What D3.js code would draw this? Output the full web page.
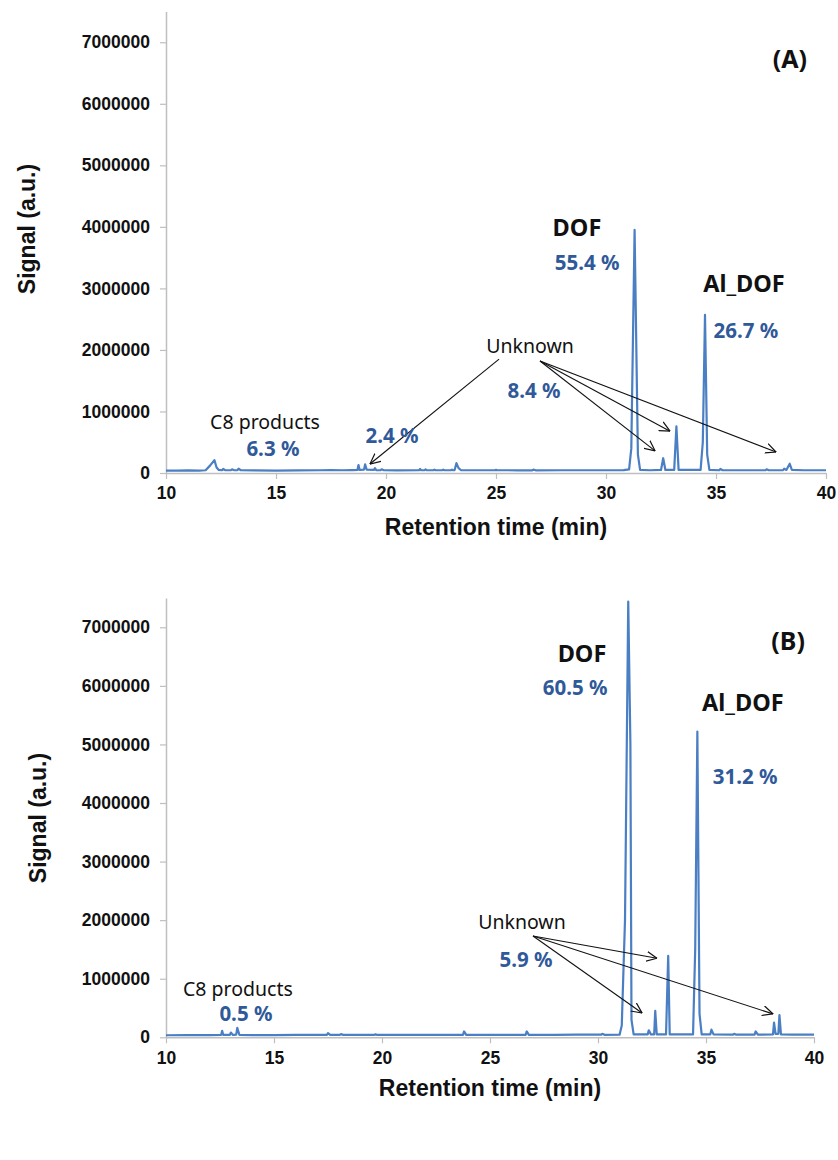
<!DOCTYPE html>
<html>
<head>
<meta charset="utf-8">
<script src="https://cdn.jsdelivr.net/npm/d3@7"></script>
<style>
  html, body { margin: 0; padding: 0; background: #fff; }
  svg { display: block; }
</style>
</head>
<body>
<svg id="chart" width="838" height="1160"></svg>
<script>
// =========================================
// CROMATOGRAMES GC – (A) i (B)
// =========================================

// =========================
// DADES
// =========================

const yTicks = [0, 1000000, 2000000, 3000000, 4000000, 5000000, 6000000, 7000000];
const xTicks = [10, 15, 20, 25, 30, 35, 40];

// (A) temps de retenció (min) i senyal
const timeA = [10.0, 10.5, 11.0, 11.5, 11.8, 12.0, 12.2, 12.3, 12.4, 12.55, 12.6, 12.7, 12.95, 13.0, 13.1, 13.25, 13.3, 13.4,
  14.0, 15.0, 16.0, 17.0, 17.5, 18.0, 18.5, 18.7, 18.75, 18.8, 19.0, 19.05, 19.12, 19.45, 19.5, 19.55,
  19.75, 19.8, 19.9, 20.5, 21.5, 21.55, 21.6, 21.75, 21.8, 21.85, 22.15, 22.2, 22.25, 22.55, 22.6, 22.65,
  22.95, 23.0, 23.05, 23.12, 23.2, 23.3, 23.4, 24.0, 24.95, 25.0,
  25.05, 26.0, 26.65, 26.7, 26.8, 28.0, 29.0, 30.0, 30.8, 31.05, 31.15, 31.3, 31.45, 31.55, 32.0, 32.5, 32.6,
  32.7, 33.1, 33.2, 33.3, 34.3, 34.4, 34.5, 34.6, 34.7, 35.15, 35.2, 35.3, 36.0, 37.25, 37.3, 37.4, 38.05, 38.1, 38.2,
  38.35, 38.45, 39.0, 40.0];
const signalA = [40000, 38000, 42000, 40000, 45000, 120000, 210000, 90000, 50000, 45000, 65000, 45000, 45000, 60000, 45000, 45000, 70000, 45000,
  42000, 40000, 42000, 45000, 48000, 45000, 48000, 50000, 130000, 50000, 55000, 140000, 55000, 50000, 80000, 48000,
  45000, 60000, 45000, 42000, 45000, 65000, 45000, 45000, 60000, 45000, 45000, 55000, 45000, 45000, 55000, 45000,
  45000, 55000, 45000, 48000, 160000, 80000, 48000, 45000, 45000, 50000,
  45000, 44000, 44000, 55000, 44000, 45000, 45000, 45000, 48000, 60000, 400000, 3950000, 300000, 50000, 45000, 50000, 240000,
  50000, 50000, 760000, 50000, 50000, 500000, 2570000, 300000, 50000, 45000, 65000, 45000, 45000, 45000, 60000, 45000, 45000, 70000, 50000,
  150000, 50000, 45000, 45000];

// (B) temps de retenció (min) i senyal
const timeB = [10.0, 11.0, 12.0, 12.55, 12.6, 12.65, 12.95, 13.0, 13.1, 13.25, 13.3, 13.4, 14.0, 15.0, 16.0, 17.0,
  17.45, 17.5, 17.6, 18.05, 18.1, 18.2, 19.65, 19.7, 19.75, 20.0, 21.0, 22.0, 23.0, 23.75, 23.8, 23.9, 25.0,
  26.65, 26.7, 26.8, 28.0, 29.0, 30.15, 30.2,
  30.3, 31.0, 31.1, 31.25, 31.4, 31.5, 31.55, 31.65, 32.3, 32.35, 32.45, 32.6, 32.65, 32.72, 33.15, 33.25,
  33.32, 34.4, 34.5, 34.6, 34.7, 34.8, 35.2, 35.25, 35.35, 36.25, 36.3, 36.4, 37.25, 37.3, 37.4, 38.1, 38.15, 38.22, 38.35,
  38.4, 38.47, 39.0, 40.0];
const signalB = [35000, 38000, 38000, 40000, 110000, 40000, 40000, 80000, 40000, 45000, 160000, 40000, 38000, 38000, 40000, 42000,
  42000, 70000, 42000, 42000, 55000, 42000, 42000, 50000, 42000, 42000, 42000, 42000, 42000, 42000, 100000, 42000, 42000,
  42000, 100000, 42000, 42000, 45000, 45000, 60000,
  42000, 45000, 200000, 2000000, 7440000, 5000000, 300000, 50000, 50000, 120000, 50000, 50000, 450000, 50000, 50000, 1390000,
  50000, 50000, 1500000, 5220000, 400000, 50000, 50000, 130000, 50000, 45000, 60000, 45000, 45000, 100000, 45000, 50000, 250000, 60000, 60000,
  380000, 50000, 45000, 45000];

// Anotacions (coordenades en unitats de dades)
const annotationsA = [
  { text: "C8 products", t: 14.5, v: 845000, kind: "label" },
  { text: "6.3 %", t: 14.86, v: 410000, kind: "pct" },
  { text: "2.4 %", t: 20.27, v: 620000, kind: "pct" },
  { text: "Unknown", t: 26.55, v: 2080000, kind: "label" },
  { text: "8.4 %", t: 26.73, v: 1350000, kind: "pct" },
  { text: "DOF", t: 28.68, v: 4000000, kind: "name" },
  { text: "55.4 %", t: 29.14, v: 3430000, kind: "pct" },
  { text: "Al_DOF", t: 36.27, v: 3090000, kind: "name" },
  { text: "26.7 %", t: 36.36, v: 2330000, kind: "pct" },
  { text: "(A)", t: 38.36, v: 6750000, kind: "panel" }
];
const arrowsA = [
  { t0: 25.14, v0: 1850000, t1: 19.27, v1: 146000 },
  { t0: 27.0, v0: 1820000, t1: 32.23, v1: 360000 },
  { t0: 27.0, v0: 1820000, t1: 32.91, v1: 680000 },
  { t0: 27.0, v0: 1820000, t1: 37.73, v1: 340000 }
];

const annotationsB = [
  { text: "C8 products", t: 13.33, v: 840000, kind: "label" },
  { text: "0.5 %", t: 13.7, v: 415000, kind: "pct" },
  { text: "Unknown", t: 26.48, v: 1970000, kind: "label" },
  { text: "5.9 %", t: 26.67, v: 1330000, kind: "pct" },
  { text: "DOF", t: 29.26, v: 6560000, kind: "name" },
  { text: "60.5 %", t: 28.94, v: 5980000, kind: "pct" },
  { text: "Al_DOF", t: 36.71, v: 5720000, kind: "name" },
  { text: "31.2 %", t: 36.81, v: 4460000, kind: "pct" },
  { text: "(B)", t: 38.8, v: 6780000, kind: "panel" }
];
const arrowsB = [
  { t0: 26.99, v0: 1730000, t1: 32.73, v1: 1350000 },
  { t0: 26.99, v0: 1730000, t1: 32.04, v1: 415000 },
  { t0: 26.99, v0: 1730000, t1: 38.1, v1: 400000 }
];


// =========================
// ESTILS
// =========================

const LINE_COLOR = "#4a7fc3";
const PCT_COLOR = "#30599a";
const AXIS_COLOR = "#bfbfbf";
const TICK_FONT = "'Liberation Sans', Arial, sans-serif";
const NOTE_FONT = "'Noto Sans', 'Open Sans', sans-serif";

const FONT_SIZE = { label: "19.5px", pct: "20.5px", name: "23.5px", panel: "25px" };

const svg = d3.select("#chart");

// fletxa oberta
svg.append("defs").append("marker")
  .attr("id", "arrow")
  .attr("viewBox", "0 0 10 10")
  .attr("refX", 9.5)
  .attr("refY", 5)
  .attr("markerWidth", 11)
  .attr("markerHeight", 11)
  .attr("markerUnits", "userSpaceOnUse")
  .attr("orient", "auto")
  .append("path")
  .attr("d", "M0,0.5 L9.5,5 L0,9.5")
  .attr("fill", "none")
  .attr("stroke", "#111")
  .attr("stroke-width", 1.1);


// =========================
// PANELL
// =========================

function drawPanel(cfg) {
  const { left, right, top, bottom, times, signals, notes, arrows, titleY, signalX, signalY } = cfg;

  const x = d3.scaleLinear().domain([10, 40]).range([left, right]);
  const y = d3.scaleLinear().domain([0, 7500000]).range([bottom, top]);

  const g = svg.append("g");

  // eix Y
  const yAxis = g.append("g")
    .attr("transform", `translate(${left},0)`)
    .call(d3.axisLeft(y).tickValues(yTicks).tickFormat(d3.format("d")).tickSize(6).tickSizeOuter(0).tickPadding(10));

  yAxis.select(".domain").attr("stroke", AXIS_COLOR).attr("stroke-width", 1.5);
  yAxis.selectAll(".tick line").attr("stroke", AXIS_COLOR).attr("stroke-width", 1.2);
  yAxis.selectAll(".tick text")
    .style("font-family", TICK_FONT)
    .style("font-size", "17.5px")
    .style("font-weight", "bold")
    .attr("fill", "#111");

  // eix X
  const xAxis = g.append("g")
    .attr("transform", `translate(0,${bottom})`)
    .call(d3.axisBottom(x).tickValues(xTicks).tickFormat(d3.format("d")).tickSize(6).tickSizeOuter(0).tickPadding(8));

  xAxis.select(".domain").attr("stroke", AXIS_COLOR).attr("stroke-width", 1.5);
  xAxis.selectAll(".tick line").attr("stroke", AXIS_COLOR).attr("stroke-width", 1.2);
  xAxis.selectAll(".tick text")
    .style("font-family", TICK_FONT)
    .style("font-size", "17.5px")
    .style("font-weight", "bold")
    .attr("fill", "#111");

  // títols d'eix
  g.append("text")
    .attr("x", (left + right) / 2)
    .attr("y", titleY)
    .attr("text-anchor", "middle")
    .attr("dominant-baseline", "central")
    .text("Retention time (min)")
    .style("font-family", TICK_FONT)
    .style("font-size", "23px")
    .style("font-weight", "bold")
    .attr("fill", "#111");

  g.append("text")
    .attr("transform", `translate(${signalX},${signalY}) rotate(-90)`)
    .attr("text-anchor", "middle")
    .attr("dominant-baseline", "central")
    .text("Signal (a.u.)")
    .style("font-family", TICK_FONT)
    .style("font-size", "23px")
    .style("font-weight", "bold")
    .attr("fill", "#111");

  // cromatograma
  const line = d3.line()
    .x((d, i) => x(times[i]))
    .y(d => y(d));

  g.append("path")
    .datum(signals)
    .attr("d", line)
    .attr("fill", "none")
    .attr("stroke", LINE_COLOR)
    .attr("stroke-width", 2.2)
    .attr("stroke-linejoin", "round");

  // fletxes
  g.selectAll(".arrow")
    .data(arrows)
    .enter()
    .append("line")
    .attr("class", "arrow")
    .attr("x1", d => x(d.t0))
    .attr("y1", d => y(d.v0))
    .attr("x2", d => x(d.t1))
    .attr("y2", d => y(d.v1))
    .attr("stroke", "#111")
    .attr("stroke-width", 1.1)
    .attr("marker-end", "url(#arrow)");

  // textos
  g.selectAll(".note")
    .data(notes)
    .enter()
    .append("text")
    .attr("class", "note")
    .attr("x", d => x(d.t))
    .attr("y", d => y(d.v))
    .attr("text-anchor", "middle")
    .attr("dominant-baseline", "central")
    .text(d => d.text)
    .style("font-family", NOTE_FONT)
    .style("font-size", d => FONT_SIZE[d.kind])
    .style("font-weight", d => d.kind === "label" ? "normal" : "bold")
    .attr("fill", d => d.kind === "pct" ? PCT_COLOR : "#111");
}


// =========================
// FUNCIÓ PRINCIPAL
// =========================

drawPanel({
  left: 166, right: 826, top: 11.5, bottom: 473,
  times: timeA, signals: signalA,
  notes: annotationsA, arrows: arrowsA,
  titleY: 527, signalX: 27, signalY: 229
});

drawPanel({
  left: 166, right: 814, top: 598, bottom: 1037.3,
  times: timeB, signals: signalB,
  notes: annotationsB, arrows: arrowsB,
  titleY: 1088, signalX: 38, signalY: 818
});
</script>
</body>
</html>
